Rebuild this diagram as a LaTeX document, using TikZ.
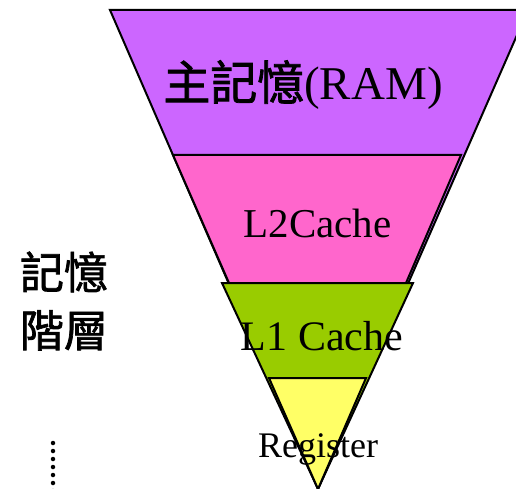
\documentclass[tikz,border=0pt]{standalone}
\usepackage{fontspec}
\setmainfont{Liberation Serif}
\newfontfamily\cjk[FakeBold=1.6]{Noto Sans CJK TC}
\definecolor{ramfill}{HTML}{CC66FF}
\definecolor{ltwofill}{HTML}{FF66CC}
\definecolor{lonefill}{HTML}{99CC00}
\definecolor{regfill}{HTML}{FFFF66}
\tikzset{
  level/.style={draw=black, line width=2pt, line join=miter},
  label/.style={inner sep=0pt, anchor=base, text=black},
}
\begin{document}
\begin{tikzpicture}[x=1pt, y=-1pt]
  \useasboundingbox (0,0) rectangle (516,489);
  \clip (0,0) rectangle (516,489);
  % memory levels, largest first
  \coordinate (apex) at (318,489);
  \filldraw[level, fill=ramfill] (110,10) -- (528,10) -- (apex) -- cycle;
  \filldraw[level, fill=ltwofill] (173,155) -- (461,155) -- (406,283) -- (229,283) -- cycle;
  \filldraw[level, fill=lonefill] (222,283) -- (413,283) -- (apex) -- cycle;
  \filldraw[level, fill=regfill] (269,378) -- (366,378) -- (apex) -- cycle;
  % level names
  \node[label, font=\fontsize{47}{52}\selectfont] (ram) at (303,100) {{\cjk 主記憶}(RAM)};
  \node[label, font=\fontsize{41}{46}\selectfont] (ltwo) at (317.5,237) {L2Cache};
  \node[label, font=\fontsize{42}{47}\selectfont] (lone) at (322,350) {L1 Cache};
  \node[label, font=\fontsize{36}{41}\selectfont] (reg) at (318,457) {Register};
  % side caption
  \node[inner sep=0pt, align=center, font=\cjk\fontsize{44}{58}\selectfont] (caption) at (64,301) {記憶\\階層};
  % dotted continuation mark
  \coordinate (dotstop) at (53,443);
  \coordinate (dotsbot) at (53,500);
  \draw[line width=4.5pt, line cap=round, dash pattern=on 0pt off 8pt] (dotstop) -- (dotsbot);
\end{tikzpicture}
\end{document}
